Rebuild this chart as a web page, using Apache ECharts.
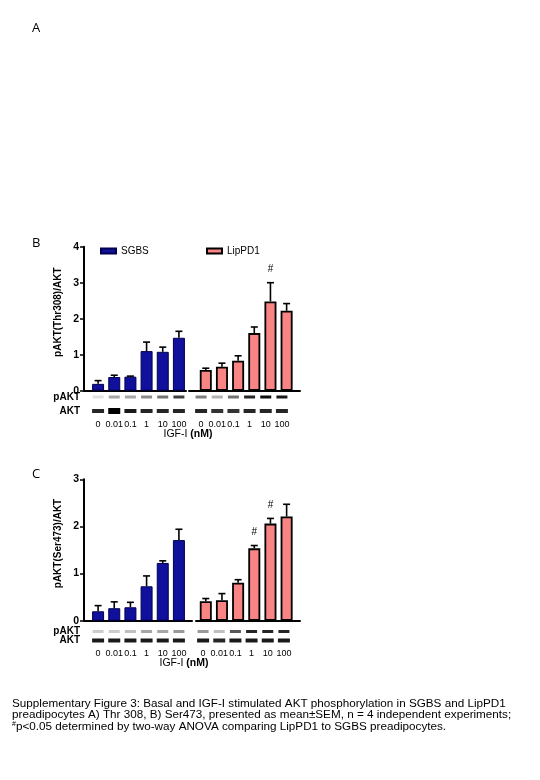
<!DOCTYPE html>
<html><head><meta charset="utf-8">
<script src="https://cdn.jsdelivr.net/npm/echarts@6/dist/echarts.min.js"></script>
<style>html,body{margin:0;padding:0;background:#fff}#c{width:540px;height:780px}</style>
</head><body><div id="c"></div>
<script>
// ---------- data ----------
const doses = ['0', '0.01', '0.1', '1', '10', '100'];
const blotRows = ['AKT', 'pAKT'];

// Panel B: pAKT(Thr308)/AKT
const B_SGBS_mean = [0.19, 0.38, 0.39, 1.10, 1.08, 1.47];
const B_SGBS_sem  = [0.09, 0.05, 0.015, 0.25, 0.13, 0.18];
const B_Lip_mean  = [0.575, 0.665, 0.83, 1.60, 2.48, 2.22];
const B_Lip_sem   = [0.05, 0.10, 0.14, 0.17, 0.52, 0.20];
const B_Lip_sig   = [0, 0, 0, 0, 1, 0];
const B_yTicks    = [0, 1, 2, 3, 4];
// blot band darkness (0..1)
const B_SGBS_pAKT = [0.12, 0.35, 0.35, 0.45, 0.55, 0.75];
const B_SGBS_AKT  = [0.85, 1.0, 0.9, 0.85, 0.85, 0.85];
const B_Lip_pAKT  = [0.5, 0.3, 0.55, 0.85, 0.95, 0.9];
const B_Lip_AKT   = [0.85, 0.8, 0.8, 0.85, 0.85, 0.85];

// Panel C: pAKT(Ser473)/AKT
const C_SGBS_mean = [0.20, 0.265, 0.285, 0.73, 1.225, 1.71];
const C_SGBS_sem  = [0.12, 0.135, 0.105, 0.22, 0.045, 0.23];
const C_Lip_mean  = [0.415, 0.435, 0.805, 1.535, 2.06, 2.21];
const C_Lip_sem   = [0.055, 0.14, 0.065, 0.06, 0.11, 0.26];
const C_Lip_sig   = [0, 0, 0, 1, 1, 0];
const C_yTicks    = [0, 1, 2, 3];
const C_SGBS_pAKT = [0.2, 0.2, 0.25, 0.35, 0.35, 0.4];
const C_SGBS_AKT  = [0.9, 0.9, 0.9, 0.9, 0.9, 0.9];
const C_Lip_pAKT  = [0.4, 0.25, 0.65, 0.85, 0.85, 0.85];
const C_Lip_AKT   = [0.9, 0.85, 0.9, 0.9, 0.9, 0.9];

const seriesNames = ['SGBS', 'LipPD1'];
const yTitles = ['pAKT(Thr308)/AKT', 'pAKT(Ser473)/AKT'];
const caption = [
  'Supplementary Figure 3: Basal and IGF-I stimulated AKT phosphorylation in SGBS and LipPD1',
  'preadipocytes A) Thr 308, B) Ser473, presented as mean\u00B1SEM, n = 4 independent experiments;'
];
const caption3 = 'p<0.05 determined by two-way ANOVA comparing LipPD1 to SGBS preadipocytes.';

// ---------- styles ----------
const SGBS_COLOR = '#10109c';
const LIP_COLOR = '#f88484';
const FONT = '"Liberation Sans", Arial, sans-serif';

const grid = [], xAxis = [], yAxis = [], series = [];

function errRender(params, api) {
  const top = api.coord([api.value(0), api.value(2)]);
  const base = api.coord([api.value(0), api.value(1)]);
  const ch = [
    {type: 'line', shape: {x1: top[0], y1: base[1], x2: top[0], y2: top[1]}, style: {stroke: '#000', lineWidth: 1.6}},
    {type: 'line', shape: {x1: top[0] - 3.5, y1: top[1], x2: top[0] + 3.5, y2: top[1]}, style: {stroke: '#000', lineWidth: 1.6}}
  ];
  if (api.value(3)) {
    ch.push({type: 'text', x: top[0], y: top[1] - 13,
      style: {text: '#', fill: '#000', font: '10px ' + FONT, align: 'center', verticalAlign: 'middle'}});
  }
  return {type: 'group', children: ch};
}

function addPanel(p) {
  const g0 = grid.length;
  const h = p.zero - p.top;
  grid.push({left: 84, top: p.top, width: p.lEnd - 84, height: h});
  grid.push({left: p.rStart, top: p.top, width: 300 - p.rStart, height: h});
  grid.push({left: 90, top: p.top, width: 97, height: h});
  grid.push({left: 197.7, top: p.top, width: 97, height: h});
  grid.push({left: 90, top: p.blotTop, width: 97, height: p.blotH});
  grid.push({left: p.blotRLeft, top: p.blotTop, width: 97, height: p.blotH});

  const yMax = p.ticks[p.ticks.length - 1];
  const axisLine = {show: true, lineStyle: {color: '#000', width: 2}};
  xAxis.push({gridIndex: g0, type: 'category', data: [''], axisLine, axisTick: {show: false}, axisLabel: {show: false}});
  yAxis.push({gridIndex: g0, type: 'value', min: p.ticks[0], max: yMax, interval: 1,
    axisLine, axisTick: {show: true, length: 4, lineStyle: {color: '#000', width: 1.5}},
    splitLine: {show: false},
    axisLabel: {color: '#000', fontWeight: 'bold', fontSize: 10.5, fontFamily: FONT, margin: 5},
    name: p.yTitle, nameLocation: 'middle', nameRotate: 90, nameGap: 21,
    nameTextStyle: {color: '#000', fontWeight: 'bold', fontSize: 10, fontFamily: FONT, padding: [0, 0, 0, 13]}});
  xAxis.push({gridIndex: g0 + 1, type: 'category', data: [''], axisLine, axisTick: {show: false}, axisLabel: {show: false}});
  yAxis.push({gridIndex: g0 + 1, type: 'value', min: 0, max: yMax, show: false});
  for (let k = 0; k < 2; k++) {
    xAxis.push({gridIndex: g0 + 2 + k, type: 'category', data: doses, show: false});
    yAxis.push({gridIndex: g0 + 2 + k, type: 'value', min: 0, max: yMax, show: false});
  }
  for (let k = 0; k < 2; k++) {
    xAxis.push({gridIndex: g0 + 4 + k, type: 'category', data: doses,
      axisLine: {show: false}, axisTick: {show: false},
      axisLabel: {color: '#000', fontSize: 9, fontFamily: FONT, margin: p.labMargin, interval: 0, hideOverlap: false}});
    yAxis.push({gridIndex: g0 + 4 + k, type: 'category', data: blotRows,
      axisLine: {show: false}, axisTick: {show: false}, splitLine: {show: false},
      axisLabel: {show: k === 0, interval: 0, hideOverlap: false, color: '#000', fontWeight: 'bold', fontSize: 10, fontFamily: FONT, margin: 10}});
  }

  const groups = [
    {name: seriesNames[0], mean: p.sMean, sem: p.sSem, sig: [0,0,0,0,0,0], color: SGBS_COLOR, border: '#000050', bw: 1, pA: p.sP, A: p.sA},
    {name: seriesNames[1], mean: p.lMean, sem: p.lSem, sig: p.lSig, color: LIP_COLOR, border: '#000', bw: 1.8, pA: p.lP, A: p.lA}
  ];
  groups.forEach((gr, k) => {
    series.push({type: 'bar', name: gr.name, xAxisIndex: g0 + 2 + k, yAxisIndex: g0 + 2 + k,
      data: gr.mean, barWidth: 12,
      itemStyle: {color: gr.color, borderColor: gr.border, borderWidth: gr.bw}, z: 2, animation: false});
    series.push({type: 'custom', name: gr.name, xAxisIndex: g0 + 2 + k, yAxisIndex: g0 + 2 + k,
      renderItem: errRender,
      data: gr.mean.map((m, i) => [i, m, m + gr.sem[i], gr.sig[i]]),
      encode: {x: 0, y: 2}, z: 3, animation: false, silent: true});
    const bands = [];
    gr.pA.forEach((d, i) => bands.push([i, 'pAKT', d]));
    gr.A.forEach((d, i) => bands.push([i, 'AKT', d]));
    series.push({type: 'scatter', xAxisIndex: g0 + 4 + k, yAxisIndex: g0 + 4 + k,
      data: bands, symbol: 'rect',
      symbolSize: v => v[1] === 'pAKT' ? [11, 3] : [12, v[2] >= 1 ? 6 : 4],
      itemStyle: {color: prm => 'rgba(0,0,0,' + prm.value[2] + ')', opacity: 1},
      silent: true, animation: false});
  });
}

addPanel({top: 246.7, zero: 390.7, ticks: B_yTicks, yTitle: yTitles[0], lEnd: 186, rStart: 189,
  blotTop: 390, blotH: 28, blotRLeft: 193, labMargin: 2,
  sMean: B_SGBS_mean, sSem: B_SGBS_sem, lMean: B_Lip_mean, lSem: B_Lip_sem, lSig: B_Lip_sig,
  sP: B_SGBS_pAKT, sA: B_SGBS_AKT, lP: B_Lip_pAKT, lA: B_Lip_AKT});
addPanel({top: 479.3, zero: 620.7, ticks: C_yTicks, yTitle: yTitles[1], lEnd: 192, rStart: 196,
  blotTop: 627, blotH: 18, blotRLeft: 195, labMargin: 4,
  sMean: C_SGBS_mean, sSem: C_SGBS_sem, lMean: C_Lip_mean, lSem: C_Lip_sem, lSig: C_Lip_sig,
  sP: C_SGBS_pAKT, sA: C_SGBS_AKT, lP: C_Lip_pAKT, lA: C_Lip_AKT});

const legendText = {color: '#000', fontSize: 10, fontFamily: FONT};
const legend = [
  {data: [{name: seriesNames[0], icon: 'rect'}], left: 95, top: 241, itemWidth: 15, itemHeight: 5, itemGap: 4, textStyle: legendText, selectedMode: false},
  {data: [{name: seriesNames[1], icon: 'rect'}], left: 201, top: 241, itemWidth: 15, itemHeight: 5, itemGap: 4, textStyle: legendText, selectedMode: false}
];

const letterFont = '13px "Open Sans", ' + FONT;
const xLabRich = {n: {fontSize: 10.5, fontFamily: FONT, fill: '#000'}, b: {fontSize: 10.5, fontWeight: 'bold', fontFamily: FONT, fill: '#000'}};
const graphic = [
  {type: 'text', left: 32, top: 22, style: {text: 'A', font: letterFont, fill: '#000'}},
  {type: 'text', left: 32, top: 237, style: {text: 'B', font: letterFont, fill: '#000'}},
  {type: 'text', left: 32, top: 468, style: {text: 'C', font: letterFont, fill: '#000'}},
  {type: 'text', x: 188, y: 434.3, style: {text: '{n|IGF-I }{b|(nM)}', align: 'center', verticalAlign: 'middle', rich: xLabRich}},
  {type: 'text', x: 184, y: 663.3, style: {text: '{n|IGF-I }{b|(nM)}', align: 'center', verticalAlign: 'middle', rich: xLabRich}},
  {type: 'text', x: 12, y: 703.3, style: {text: caption[0], font: '11.7px ' + FONT, fill: '#000', verticalAlign: 'middle'}},
  {type: 'text', x: 12, y: 714.8, style: {text: caption[1], font: '11.7px ' + FONT, fill: '#000', verticalAlign: 'middle'}},
  {type: 'text', x: 12, y: 726.3, style: {text: '{s|#}{t|' + caption3 + '}', verticalAlign: 'middle',
    rich: {s: {fontSize: 7, fontFamily: FONT, fill: '#000', verticalAlign: 'top', padding: [0, 0, 5, 0]}, t: {fontSize: 11.7, fontFamily: FONT, fill: '#000'}}}}
];

const chart = echarts.init(document.getElementById('c'), null, {renderer: 'canvas'});
chart.setOption({animation: false, backgroundColor: '#fff', grid, xAxis, yAxis, series, legend, graphic});
</script></body></html>
